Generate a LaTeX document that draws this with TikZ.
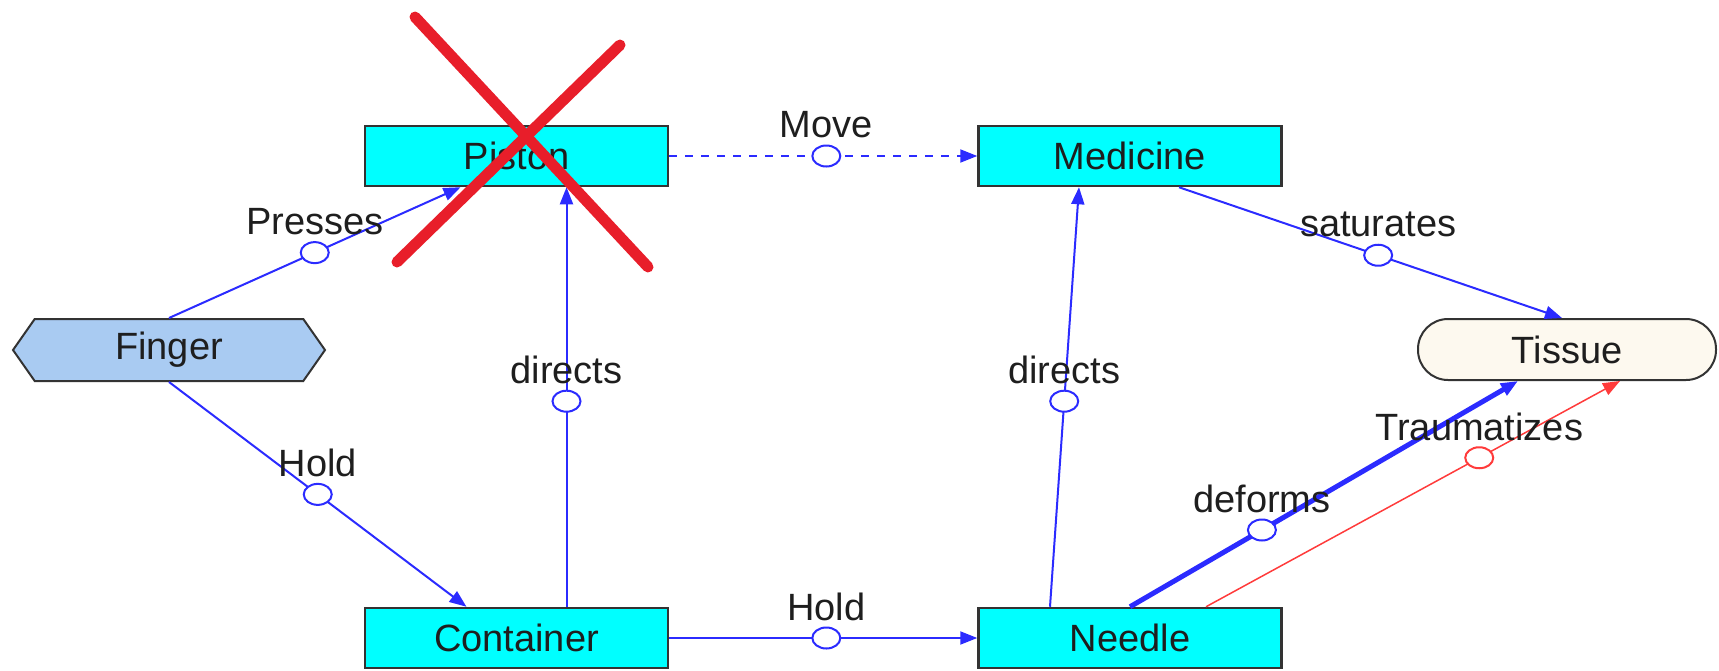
\documentclass[tikz,border=0pt]{standalone}
\usepackage{fontspec}
\setmainfont{Liberation Sans}
\usetikzlibrary{arrows.meta,shapes.symbols,shapes.geometric,calc}

\definecolor{boxcyan}{HTML}{00FFFF}
\definecolor{fingerblue}{HTML}{A9CBF2}
\definecolor{tissuefill}{HTML}{FDF9EF}
\definecolor{linkblue}{HTML}{2B2BFF}
\definecolor{linkred}{HTML}{FF3B3B}
\definecolor{crossred}{HTML}{E81E2A}
\definecolor{edgegray}{HTML}{333333}
\definecolor{textgray}{HTML}{1E1E1E}

\begin{document}
\begin{tikzpicture}[x=1pt,y=-1pt,
  every node/.style={font=\fontsize{38}{44}\selectfont, text=textgray},
  entity/.style={draw=edgegray, line width=2.5pt, fill=boxcyan,
    minimum width=303pt, minimum height=60pt, inner sep=0pt},
  agent/.style={shape=signal, signal to=west and east, signal pointer angle=110,
    draw=edgegray, line width=2pt, fill=fingerblue,
    minimum width=312pt, minimum height=62pt, inner sep=0pt},
  patient/.style={draw=edgegray, line width=2pt, fill=tissuefill, rounded corners=30pt,
    minimum width=298pt, minimum height=61pt, inner sep=0pt},
  link/.style={draw=linkblue, line width=2pt, -{Triangle[length=17pt,width=13pt]}},
  thicklink/.style={link, line width=5pt},
  harmlink/.style={draw=linkred, line width=1.5pt, -{Triangle[length=17pt,width=13pt]}},
  ring/.style={ellipse, draw=#1, solid, line width=2pt, fill=white, minimum width=28pt,
    minimum height=21pt, inner sep=0pt},
  ring/.default=linkblue,
  lab/.style={yshift=31pt, inner sep=0pt},
  cross/.style={draw=crossred, line width=11pt, line cap=round}
]
\useasboundingbox (0,0) rectangle (1719,670);

% components
\node[entity]  (piston)    at (516.5,156) {Piston};
\node[entity]  (medicine)  at (1130,156)  {Medicine};
\node[agent]   (finger)    at (169,350)   {Finger};
\node[patient] (tissue)    at (1567,349.5) {Tissue};
\node[entity]  (container) at (516.5,638) {Container};
\node[entity]  (needle)    at (1130,638)  {Needle};

% relations
\draw[link] (finger.north) -- node[ring]{} node[lab]{Presses}
  ([xshift=-56pt]piston.south);
\draw[link] (finger.south) -- node[ring]{} node[lab]{Hold}
  ([xshift=-50pt]container.north);
\draw[link] ([xshift=50pt]container.north) -- node[ring, pos=0.49]{} node[lab, pos=0.49]{directs}
  ([xshift=50pt]piston.south);
\draw[link, dash pattern=on 8pt off 8pt] (piston.east) -- node[ring, pos=0.51]{} node[lab, pos=0.51]{Move}
  (medicine.west);
\draw[link] (container.east) -- node[ring, pos=0.51]{} node[lab, pos=0.51]{Hold}
  (needle.west);
\draw[link] ([xshift=-80pt]needle.north) -- node[ring, pos=0.49]{} node[lab, pos=0.49]{directs}
  ([xshift=-51pt]medicine.south);
\draw[link] ([xshift=49pt]medicine.south) -- node[ring, pos=0.52]{} node[lab, pos=0.52]{saturates}
  ([xshift=-5pt]tissue.north);
\draw[thicklink] (needle.north) -- node[ring, pos=0.34]{} node[lab, pos=0.34]{deforms}
  ([xshift=-49pt]tissue.south);
\draw[harmlink] ([xshift=76pt]needle.north) -- node[ring=linkred, pos=0.66]{} node[lab, pos=0.66]{Traumatizes}
  ([xshift=53pt]tissue.south);

% strike-out over the piston
\draw[cross] (415,17) -- (648,267);
\draw[cross] (620,45) -- (397,262);
\end{tikzpicture}
\end{document}
